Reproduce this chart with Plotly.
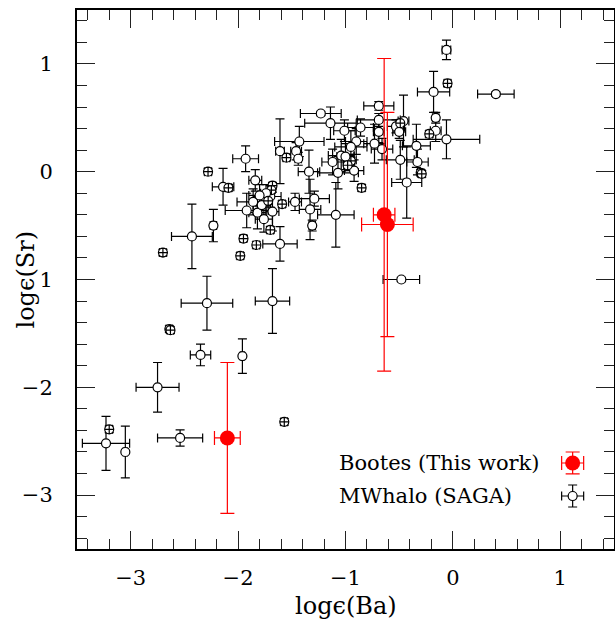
import plotly.graph_objects as go

# MW halo (SAGA) stars: log eps(Ba), log eps(Sr) and their errors
mw_x = [-3.23, -3.20, -3.05, -2.75, -2.54, -2.35, -1.96, -2.64, -2.63, -1.57,
        -2.29, -1.68, -2.70, -2.43, -2.23, -2.28, -2.14, -2.09, -1.93, -1.95,
        -1.98, -1.83, -1.61, -1.70, -1.84, -1.92, -1.86, -1.82, -1.76, -1.68,
        -1.70, -1.68, -1.69, -1.78, -1.59, -1.47, -1.33, -1.29, -1.31, -1.09,
        -1.61, -1.55, -1.46, -1.44, -1.43, -1.34, -1.23, -1.14, -1.01, -0.86,
        -0.90, -0.95, -0.73, -1.04, -1.12, -0.96, -0.95, -1.07, -0.92, -0.85,
        -0.69, -0.69, -0.69, -0.66, -0.53, -0.50, -0.46, -0.49, -0.49, -0.43,
        -0.34, -0.33, -0.30, -0.06, -0.05, -0.18, 0.40, -0.16, -0.16, -0.22,
        -0.06, -0.48, -1.74, -1.72, -1.80, -1.00, -0.98, -0.29]
mw_y = [-2.52, -2.39, -2.60, -2.00, -2.47, -1.70, -1.71, -1.46, -1.47, -2.32,
        -1.22, -1.20, -0.75, -0.60, -0.50, 0.00, -0.14, -0.15, 0.12, -0.62,
        -0.78, -0.68, -0.67, -0.54, -0.08, -0.36, -0.28, -0.38, -0.44, -0.37,
        -0.23, -0.13, -0.17, -0.31, -0.30, -0.28, -0.35, -0.25, -0.50, -0.40,
        0.19, 0.13, 0.19, 0.12, 0.28, 0.00, 0.54, 0.45, 0.38, 0.41,
        0.28, 0.23, 0.26, 0.15, 0.09, 0.11, 0.10, -0.01, 0.01, -0.15,
        0.61, 0.48, 0.37, 0.21, 0.42, 0.37, 0.47, 0.45, 0.11, -0.10,
        0.24, 0.09, -0.01, 1.13, 0.82, 0.74, 0.72, 0.50, 0.38, 0.35,
        0.30, -1.00, -0.20, -0.27, -0.22, 0.14, 0.06, -0.02]
mw_xerr = [0.22, 0.03, 0.02, 0.20, 0.21, 0.095, 0.02, 0.03, 0.03, 0.03,
           0.24, 0.16, 0.03, 0.19, 0.03, 0.03, 0.10, 0.03, 0.12, 0.03,
           0.03, 0.03, 0.16, 0.03, 0.06, 0.20, 0.15, 0.08, 0.08, 0.06,
           0.10, 0.03, 0.03, 0.08, 0.03, 0.06, 0.10, 0.14, 0.03, 0.17,
           0.04, 0.03, 0.05, 0.03, 0.23, 0.10, 0.19, 0.24, 0.10, 0.12,
           0.10, 0.15, 0.10, 0.12, 0.10, 0.06, 0.03, 0.19, 0.09, 0.03,
           0.14, 0.20, 0.05, 0.10, 0.08, 0.06, 0.05, 0.03, 0.13, 0.14,
           0.13, 0.10, 0.03, 0.04, 0.03, 0.15, 0.17, 0.03, 0.05, 0.03,
           0.31, 0.17, 0.05, 0.03, 0.10, 0.08, 0.03, 0.03]
mw_yerr = [0.25, 0.03, 0.24, 0.23, 0.075, 0.10, 0.16, 0.03, 0.03, 0.03,
           0.25, 0.30, 0.03, 0.30, 0.15, 0.03, 0.17, 0.03, 0.12, 0.03,
           0.03, 0.03, 0.16, 0.03, 0.10, 0.16, 0.12, 0.15, 0.12, 0.18,
           0.10, 0.03, 0.03, 0.10, 0.03, 0.08, 0.28, 0.07, 0.05, 0.30,
           0.30, 0.03, 0.08, 0.06, 0.14, 0.20, 0.02, 0.15, 0.10, 0.08,
           0.12, 0.15, 0.18, 0.15, 0.12, 0.05, 0.03, 0.15, 0.10, 0.03,
           0.04, 0.06, 0.10, 0.10, 0.06, 0.06, 0.24, 0.03, 0.18, 0.33,
           0.20, 0.12, 0.03, 0.09, 0.03, 0.19, 0.02, 0.05, 0.10, 0.03,
           0.18, 0.02, 0.08, 0.03, 0.10, 0.12, 0.03, 0.03]

# Bootes (this work)
bo_x = [-2.10, -0.64, -0.61]
bo_y = [-2.47, -0.40, -0.49]
bo_xerr = [0.12, 0.10, 0.24]
bo_yerr = [0.70, 1.45, 1.04]

tick_vals = [-3, -2, -1, 0, 1]
x_tick_text = ["\u22123", "\u22122", "\u22121", "0", "1"]
y_tick_text = ["\u22123", "\u22122", "1", "0", "1"]

legend_labels = ["Bootes (This work)", "MWhalo (SAGA)"]

FONT = "DejaVu Serif"

# small error -> error bars inside the circle: show as crossed circle
mw_symbols = ["circle-cross" if (ex < 0.045 and ey < 0.045) else "circle"
              for ex, ey in zip(mw_xerr, mw_yerr)]

fig = go.Figure()

fig.add_trace(go.Scatter(
    x=mw_x, y=mw_y, mode="markers", showlegend=False,
    error_x=dict(type="data", array=mw_xerr, color="black", thickness=1.2, width=4.5),
    error_y=dict(type="data", array=mw_yerr, color="black", thickness=1.2, width=4.5),
    marker=dict(symbol=mw_symbols, size=9, color="white",
                line=dict(color="black", width=1.2)),
))

fig.add_trace(go.Scatter(
    x=bo_x, y=bo_y, mode="markers", showlegend=False,
    error_x=dict(type="data", array=bo_xerr, color="red", thickness=1.2, width=7),
    error_y=dict(type="data", array=bo_yerr, color="red", thickness=1.2, width=7),
    marker=dict(symbol="circle", size=15, color="red"),
))

# legend keys on an overlay axis (0..1 in both directions)
key_x = 0.923
key_y = [0.1596, 0.0983]
key_dx = 0.0205
key_dy = 0.0204
fig.add_trace(go.Scatter(
    x=[key_x], y=[key_y[0]], xaxis="x2", yaxis="y2", mode="markers", showlegend=False,
    error_x=dict(type="data", array=[key_dx], color="red", thickness=1.2, width=7),
    error_y=dict(type="data", array=[key_dy], color="red", thickness=1.2, width=7),
    marker=dict(symbol="circle", size=15, color="red"), hoverinfo="skip",
))
fig.add_trace(go.Scatter(
    x=[key_x], y=[key_y[1]], xaxis="x2", yaxis="y2", mode="markers", showlegend=False,
    error_x=dict(type="data", array=[key_dx], color="black", thickness=1.2, width=4.5),
    error_y=dict(type="data", array=[key_dy], color="black", thickness=1.2, width=4.5),
    marker=dict(symbol="circle", size=9, color="white", line=dict(color="black", width=1.2)),
    hoverinfo="skip",
))

axis_common = dict(
    showline=True, linecolor="black", linewidth=2, mirror="allticks",
    ticks="inside", ticklen=18, tickwidth=1.3, tickcolor="#222",
    showgrid=False, zeroline=False, automargin=False,
    tickfont=dict(family=FONT, size=21, color="black"),
    minor=dict(ticks="inside", ticklen=10, tickwidth=1.3, tickcolor="#222",
               dtick=0.2, tick0=0, showgrid=False),
)

fig.update_layout(
    width=615, height=619,
    margin=dict(l=77, r=1, t=10, b=70),
    paper_bgcolor="white", plot_bgcolor="white",
    xaxis=dict(range=[-3.5, 1.5], tickmode="array", tickvals=tick_vals,
               ticktext=x_tick_text, ticklabelstandoff=9, **axis_common),
    yaxis=dict(range=[-3.5, 1.5], tickmode="array", tickvals=tick_vals,
               ticktext=y_tick_text, ticklabelstandoff=18, **axis_common),
    xaxis2=dict(overlaying="x", range=[0, 1], visible=False, fixedrange=True),
    yaxis2=dict(overlaying="y", range=[0, 1], visible=False, fixedrange=True),
    showlegend=False,
    annotations=[
        dict(text="log\u03f5(Ba)", x=0.5, y=-0.1050, xref="paper", yref="paper",
             xanchor="center", yanchor="middle", showarrow=False,
             font=dict(family=FONT, size=24, color="black")),
        dict(text="log\u03f5(Sr)", x=-0.0968, y=0.5, xref="paper", yref="paper",
             xanchor="center", yanchor="middle", showarrow=False, textangle=-90,
             font=dict(family=FONT, size=24, color="black")),
        dict(text=legend_labels[0], x=0.4836, y=key_y[0], xref="paper", yref="paper",
             xanchor="left", yanchor="middle", showarrow=False,
             font=dict(family=FONT, size=21, color="black")),
        dict(text=legend_labels[1], x=0.4836, y=key_y[1], xref="paper", yref="paper",
             xanchor="left", yanchor="middle", showarrow=False,
             font=dict(family=FONT, size=21, color="black")),
    ],
)

fig.write_html("out.html",
               config={"displayModeBar": False},
               post_script="document.body.style.margin='0px';"
                           "document.documentElement.style.overflow='hidden';")
